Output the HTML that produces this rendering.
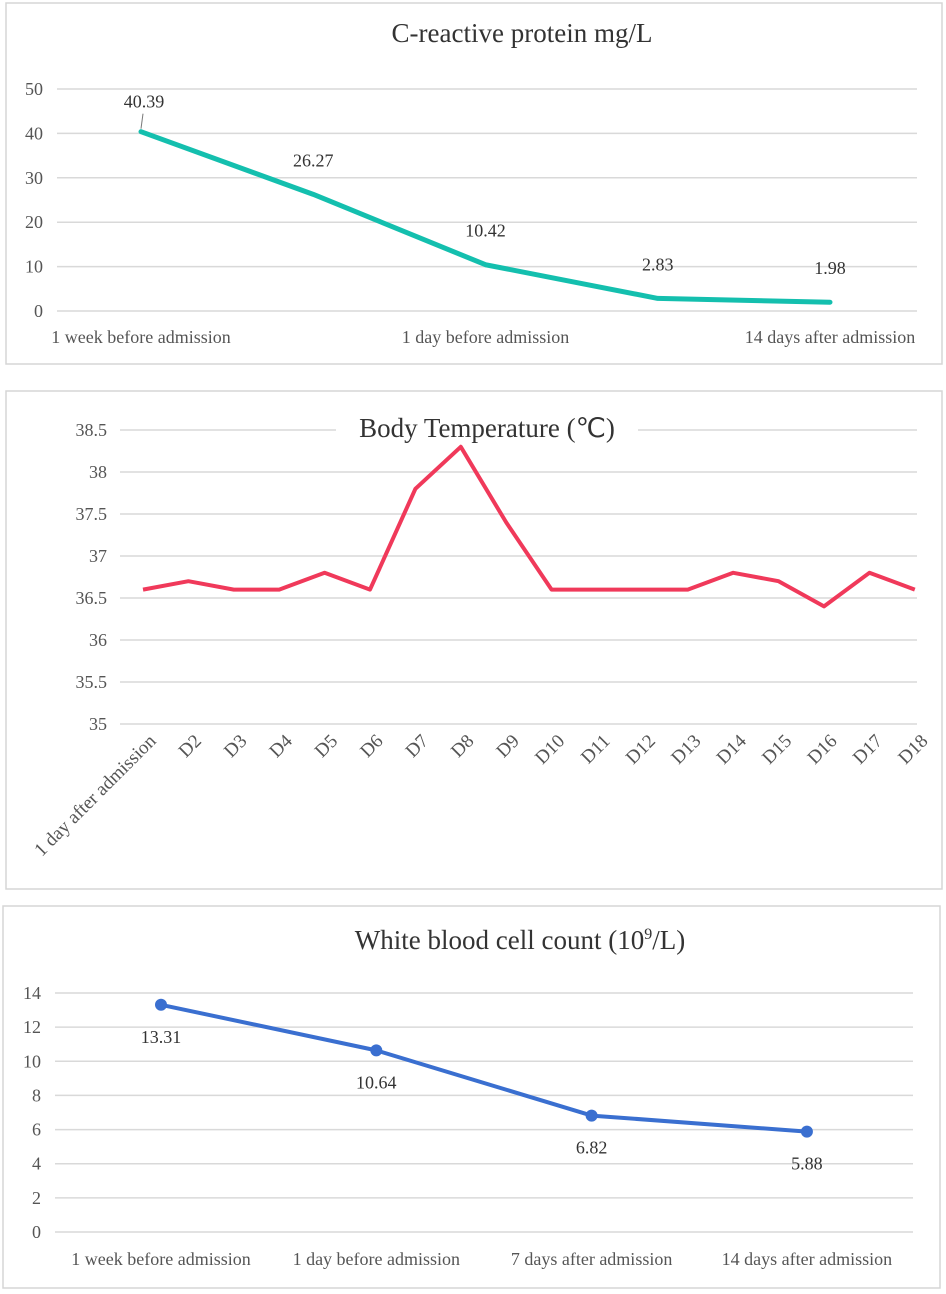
<!DOCTYPE html>
<html><head><meta charset="utf-8"><style>
html,body{margin:0;padding:0;background:#fff;}
svg{display:block;font-family:"Liberation Serif",serif;}
</style></head><body>
<svg id="s" width="946" height="1294">
<rect x="6" y="3" width="936" height="361" fill="#fff" stroke="#d6d6d6" stroke-width="1.5"/>
<rect x="6" y="391" width="936" height="498" fill="#fff" stroke="#d6d6d6" stroke-width="1.5"/>
<rect x="3" y="906" width="937" height="382" fill="#fff" stroke="#d6d6d6" stroke-width="1.5"/>
<text x="522" y="42" font-size="27" text-anchor="middle" fill="#333">C-reactive protein mg/L</text>
<text x="520" y="949" font-size="27" text-anchor="middle" fill="#333">White blood cell count (10<tspan font-size="16" dy="-10">9</tspan><tspan dy="10">/L)</tspan></text>
<g id="g1"></g><g id="g2"></g><g id="g3"></g>
<rect x="336" y="414" width="302" height="28" fill="#fff"/>
<text x="487" y="437" font-size="27" text-anchor="middle" fill="#333">Body Temperature (℃)</text>
</svg>
<script>
const NS="http://www.w3.org/2000/svg";
// CRP data
const crpCategories=["1 week before admission","","1 day before admission","","14 days after admission"];
const crpValues=[40.39,26.27,10.42,2.83,1.98];
const crpTicks=[0,10,20,30,40,50];
// Temperature data
const tempCategories=["1 day after admission","D2","D3","D4","D5","D6","D7","D8","D9","D10","D11","D12","D13","D14","D15","D16","D17","D18"];
const tempValues=[36.6,36.7,36.6,36.6,36.8,36.6,37.8,38.3,37.4,36.6,36.6,36.6,36.6,36.8,36.7,36.4,36.8,36.6];
const tempTicks=[35,35.5,36,36.5,37,37.5,38,38.5];
// WBC data
const wbcCategories=["1 week before admission","1 day before admission","7 days after admission","14 days after admission"];
const wbcValues=[13.31,10.64,6.82,5.88];
const wbcTicks=[0,2,4,6,8,10,12,14];

function el(tag,attrs,parent,txt){const e=document.createElementNS(NS,tag);for(const k in attrs)e.setAttribute(k,attrs[k]);if(txt!==undefined)e.textContent=txt;parent.appendChild(e);return e;}

function axisY(min,max,y0,y1){return v=>y0-(v-min)/(max-min)*(y0-y1);}

// Chart 1
(function(){
const g=document.getElementById('g1');
const y=axisY(0,50,311,89);
const x=i=>141+i*172.25;
crpTicks.forEach(t=>{
  const l=el('line',{x1:57,x2:917,y1:y(t),y2:y(t),stroke:'#d9d9d9','stroke-width':1.5},g);
  
  
  const tx=el('text',{x:43,y:y(t)+6,'font-size':18,'text-anchor':'end',fill:'#555'},g,String(t));
  
  
});
const pts=crpValues.map((v,i)=>x(i)+','+y(v)).join(' ');
const pl=el('polyline',{points:pts,fill:'none',stroke:'#14bfae','stroke-width':5,'stroke-linejoin':'round','stroke-linecap':'round'},g);


crpValues.forEach((v,i)=>{
  const t=el('text',{x:x(i)+(i===0?3:0),y:i===0?y(v)-24:y(v)-28,'font-size':18,'text-anchor':'middle',fill:'#333'},g,v.toFixed(2));
  
  
});
el('line',{x1:x(0),y1:y(crpValues[0])-3,x2:x(0)+2,y2:y(crpValues[0])-18,stroke:'#777','stroke-width':1},g);
crpCategories.forEach((c,i)=>{ if(!c)return;
  const t=el('text',{x:x(i),y:343,'font-size':18,'text-anchor':'middle',fill:'#555'},g,c);
  
  
});
})();

// Chart 2
(function(){
const g=document.getElementById('g2');
const y=axisY(35,38.5,724,430);
const x=i=>143+i*45.4;
tempTicks.forEach(t=>{
  const l=el('line',{x1:120,x2:917,y1:y(t),y2:y(t),stroke:'#d9d9d9','stroke-width':1.5},g);
  
  
  const tx=el('text',{x:107,y:y(t)+6,'font-size':18,'text-anchor':'end',fill:'#555'},g,String(t));
  
  
});
const pts=tempValues.map((v,i)=>x(i)+','+y(v)).join(' ');
const pl=el('polyline',{points:pts,fill:'none',stroke:'#f0395a','stroke-width':4,'stroke-linejoin':'round'},g);


tempCategories.forEach((c,i)=>{
  const px=x(i)+14, py=742;
  const t=el('text',{x:px,y:py,'font-size':19,'text-anchor':'end',fill:'#555',transform:`rotate(-45 ${px} ${py})`},g,c);
  
  
});
})();

// Chart 3
(function(){
const g=document.getElementById('g3');
const y=axisY(0,14,1232,993);
const x=i=>161+i*215.3;
wbcTicks.forEach(t=>{
  const l=el('line',{x1:55,x2:913,y1:y(t),y2:y(t),stroke:'#d9d9d9','stroke-width':1.5},g);
  
  
  const tx=el('text',{x:41,y:y(t)+6,'font-size':18,'text-anchor':'end',fill:'#555'},g,String(t));
  
  
});
const pts=wbcValues.map((v,i)=>x(i)+','+y(v)).join(' ');
const pl=el('polyline',{points:pts,fill:'none',stroke:'#3a6fd0','stroke-width':4,'stroke-linejoin':'round'},g);


wbcValues.forEach((v,i)=>{
  const c=el('circle',{cx:x(i),cy:y(v),r:6,fill:'#3a6fd0'},g);
  
  
  const t=el('text',{x:x(i),y:y(v)+38,'font-size':18,'text-anchor':'middle',fill:'#333'},g,v.toFixed(2));
  
  
});
wbcCategories.forEach((c,i)=>{
  const t=el('text',{x:x(i),y:1265,'font-size':18,'text-anchor':'middle',fill:'#555'},g,c);
  
  
});
})();
</script>
</body></html>
